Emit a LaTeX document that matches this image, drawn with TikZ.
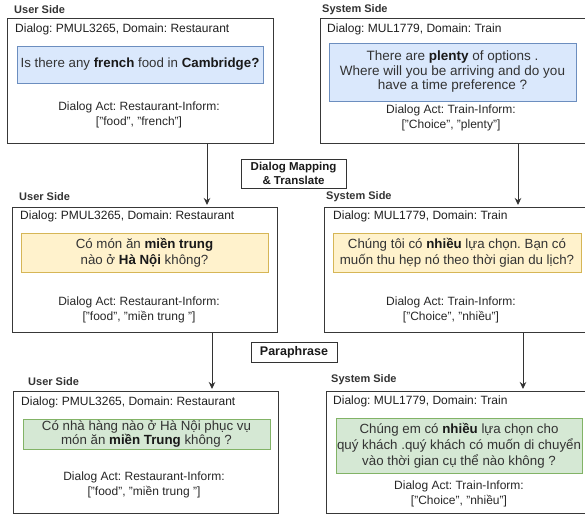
\documentclass[tikz,border=0pt]{standalone}
\usepackage{fontspec}
\setmainfont{Liberation Sans}
\usetikzlibrary{arrows.meta}
\frenchspacing
\definecolor{bluefill}{HTML}{DAE8FC}
\definecolor{bluedraw}{HTML}{6C8EBF}
\definecolor{yelfill}{HTML}{FFF2CC}
\definecolor{yeldraw}{HTML}{D6B656}
\definecolor{grnfill}{HTML}{D5E8D4}
\definecolor{grndraw}{HTML}{82B366}
\definecolor{txt}{HTML}{333333}
\tikzset{
  outer/.style={draw=black!78, line width=1pt, inner sep=0pt, anchor=north west},
  sidelbl/.style={font=\fontsize{11}{13}\selectfont\bfseries, text=txt, anchor=west, inner sep=0pt},
  hdr/.style={font=\fontsize{12}{14}\selectfont, text=black!88, anchor=west, inner sep=0pt},
  actlbl/.style={font=\fontsize{12}{15}\selectfont, text=black!85, align=center, inner sep=0pt},
  sent/.style={line width=0.8pt, inner sep=0pt, align=center, text=txt, font=\fontsize{13.3}{16}\selectfont},
  blu/.style={sent, draw=bluedraw, fill=bluefill},
  yel/.style={sent, draw=yeldraw, fill=yelfill},
  grn/.style={sent, draw=grndraw, fill=grnfill},
  stepbox/.style={draw=black!80, line width=0.9pt, inner sep=0pt, align=center, font=\fontsize{11.5}{14}\selectfont\bfseries, text=black!90},
  arr/.style={draw=black!80, line width=1pt, -{Stealth[length=7pt,width=6.5pt]}, shorten >=2pt}
}
\begin{document}
\begin{tikzpicture}[x=1pt,y=-1pt]
\useasboundingbox (0,0) rectangle (585,516);
\clip (0,0) rectangle (585,516);

% ---------- top row ----------
\node[sidelbl] (tlside) at (14,10) {User Side};
\node[outer, minimum width=266pt, minimum height=125pt] (tl) at (7,18) {};
\node[hdr] (tlhdr) at (15,29) {Dialog: PMUL3265, Domain: Restaurant};
\node[blu, minimum width=246pt, minimum height=37pt] (tls) at (140,64.5) {Is there any \textbf{\color{black!90}french} food in \textbf{\color{black!90}Cambridge?}};
\node[actlbl] (tlact) at (139,114.5) {Dialog Act: Restaurant-Inform:\\{}["food", "french"]};

\node[sidelbl] (trside) at (322,10) {System Side};
\node[outer, minimum width=275pt, minimum height=125pt] (tr) at (320,18) {};
\node[hdr] (trhdr) at (327,29) {Dialog: MUL1779, Domain: Train};
\node[blu, minimum width=247pt, minimum height=58pt, font=\fontsize{13.5}{14.5}\selectfont] (trs) at (452.5,72) {There are \textbf{\color{black!90}plenty} of options .\\ Where will you be arriving and do you\\have a time preference ?};
\node[actlbl] (tract) at (451,117.5) {Dialog Act: Train-Inform:\\{}["Choice", "plenty"]};

% ---------- middle row ----------
\node[sidelbl] (mlside) at (19,197) {User Side};
\node[outer, minimum width=265pt, minimum height=125pt] (ml) at (12,207) {};
\node[hdr] (mlhdr) at (20,216) {Dialog: PMUL3265, Domain: Restaurant};
\node[yel, minimum width=247pt, minimum height=39pt] (mls) at (144.5,252.5) {Có món ăn \textbf{\color{black!90}miền trung}\\nào ở \textbf{\color{black!90}Hà Nội} không?};
\node[actlbl] (mlact) at (139,309.5) {Dialog Act: Restaurant-Inform:\\{}["food", "miền trung "]};

\node[sidelbl] (mrside) at (326,197) {System Side};
\node[outer, minimum width=271pt, minimum height=125pt] (mr) at (324,207) {};
\node[hdr] (mrhdr) at (333,216) {Dialog: MUL1779, Domain: Train};
\node[yel, minimum width=248pt, minimum height=39pt] (mrs) at (457,252.5) {Chúng tôi có \textbf{\color{black!90}nhiều} lựa chọn. Bạn có\\muốn thu hẹp nó theo thời gian du lịch?};
\node[actlbl] (mract) at (451,309.5) {Dialog Act: Train-Inform:\\{}["Choice", "nhiều"]};

% ---------- bottom row ----------
\node[sidelbl] (blside) at (28,382) {User Side};
\node[outer, minimum width=265pt, minimum height=122pt] (bl) at (13,391) {};
\node[hdr] (blhdr) at (21,402) {Dialog: PMUL3265, Domain: Restaurant};
\node[grn, minimum width=247pt, minimum height=30pt, font=\fontsize{13.3}{14}\selectfont] (bls) at (146.5,434) {Có nhà hàng nào ở Hà Nội phục vụ\\món ăn \textbf{\color{black!90}miền Trung} không ?};
\node[actlbl] (blact) at (144,485) {Dialog Act: Restaurant-Inform:\\{}["food", "miền trung "]};

\node[sidelbl] (brside) at (331,380) {System Side};
\node[outer, minimum width=269pt, minimum height=122pt] (br) at (326,391) {};
\node[hdr] (brhdr) at (333,401) {Dialog: MUL1779, Domain: Train};
\node[grn, minimum width=246pt, minimum height=55pt] (brs) at (459,445.5) {Chúng em có \textbf{\color{black!90}nhiều} lựa chọn cho\\quý khách .quý khách có muốn di chuyển\\vào thời gian cụ thể nào không ?};
\node[actlbl] (bract) at (459,494) {Dialog Act: Train-Inform:\\{}["Choice", "nhiều"]};

% ---------- step labels ----------
\node[stepbox, minimum width=105pt, minimum height=29pt] (map) at (293.5,173.5) {Dialog Mapping\\\& Translate};
\node[stepbox, minimum width=86pt, minimum height=20pt, font=\fontsize{12.5}{14}\selectfont\bfseries] (para) at (294,352) {Paraphrase};

% ---------- connectors ----------
\coordinate (c1) at (207,0);
\coordinate (c2) at (518,0);
\coordinate (c3) at (212,0);
\coordinate (c4) at (523,0);
\draw[arr] (tl.south -| c1) -- (ml.north -| c1);
\draw[arr] (tr.south -| c2) -- (mr.north -| c2);
\draw[arr] (ml.south -| c3) -- (bl.north -| c3);
\draw[arr] (mr.south -| c4) -- (br.north -| c4);
\end{tikzpicture}
\end{document}
